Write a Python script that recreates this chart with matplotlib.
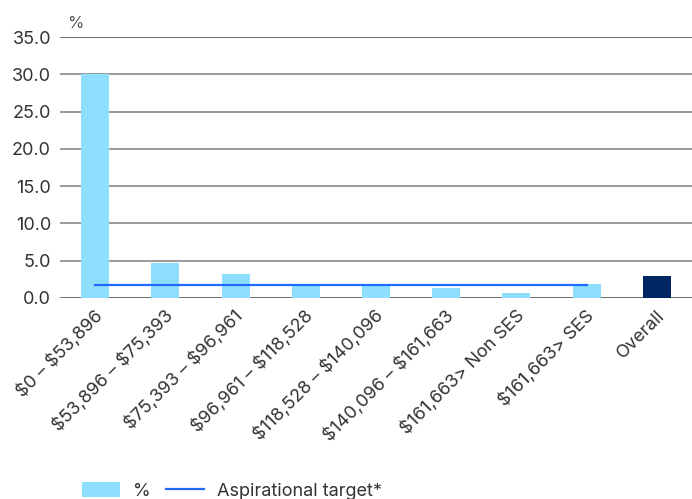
import matplotlib
matplotlib.use("Agg")
import matplotlib.pyplot as plt
import matplotlib.transforms as mtransforms
from matplotlib.patches import Patch
from matplotlib.lines import Line2D

plt.rcParams['font.family'] = ['Inter', 'DejaVu Sans']
plt.rcParams['text.parse_math'] = False

categories = ["$0 – $53,896", "$53,896 – $75,393", "$75,393 – $96,961",
              "$96,961 – $118,528", "$118,528 – $140,096", "$140,096 – $161,663",
              "$161,663> Non SES", "$161,663> SES", "Overall"]
values = [30.0, 4.7, 3.2, 1.8, 1.8, 1.3, 0.7, 1.9, 2.9]
target = [1.78] * 8
yticks = [0, 5, 10, 15, 20, 25, 30, 35]

light = "#8EDFFD"
navy = "#002664"
line_col = "#1F6BFF"

fig = plt.figure(figsize=(6.92, 4.99), dpi=100)
ax = fig.add_axes([60/692, 1-298/499, 1-60/692, (298-37)/499])

x = list(range(len(categories)))
colors = [light]*(len(categories)-1) + [navy]
ax.bar(x, values, width=0.4, color=colors, zorder=2)
ax.plot(x[:len(target)], target, color=line_col, lw=1.6, zorder=3)

ax.set_xlim(-0.5, len(categories)-0.5)
ax.set_ylim(0, 35)
ax.set_yticks(yticks)
ax.set_yticklabels([f"{v:.1f}" for v in yticks])
for v in yticks:
    if v == 0 or v == 35:
        ax.axhline(v, color="#555555", lw=1.2, zorder=1)
    else:
        ax.axhline(v, color="#8a8a8a", lw=1.2, zorder=1)
for s in ax.spines.values():
    s.set_visible(False)
ax.tick_params(axis='y', length=0, pad=6.5, labelsize=13, labelcolor="#333333")
ax.tick_params(axis='x', length=0, pad=11)
ax.set_xticks(x)
ax.set_xticklabels(categories, rotation=45, ha='right', va='center',
                   rotation_mode='anchor', fontsize=13, color="#333333")
offset = mtransforms.ScaledTranslation(5/100, 0, fig.dpi_scale_trans)
for lab in ax.get_xticklabels():
    lab.set_transform(lab.get_transform() + offset)

fig.text(67/692, 1-23/499, "%", fontsize=12, color="#555555", ha='left', va='center')

handles = [Patch(facecolor=light, edgecolor='none'),
           Line2D([0], [0], color=line_col, lw=1.6)]
fig.legend(handles, ["%", "Aspirational target*"], loc='center left',
           bbox_to_anchor=(82/692, 1-491/499), ncol=2, frameon=False,
           fontsize=13, handlelength=2.1, handleheight=0.9, handletextpad=0.7,
           columnspacing=0.9, labelcolor="#333333", borderaxespad=0, borderpad=0)

fig.savefig("out.png", dpi=100)
